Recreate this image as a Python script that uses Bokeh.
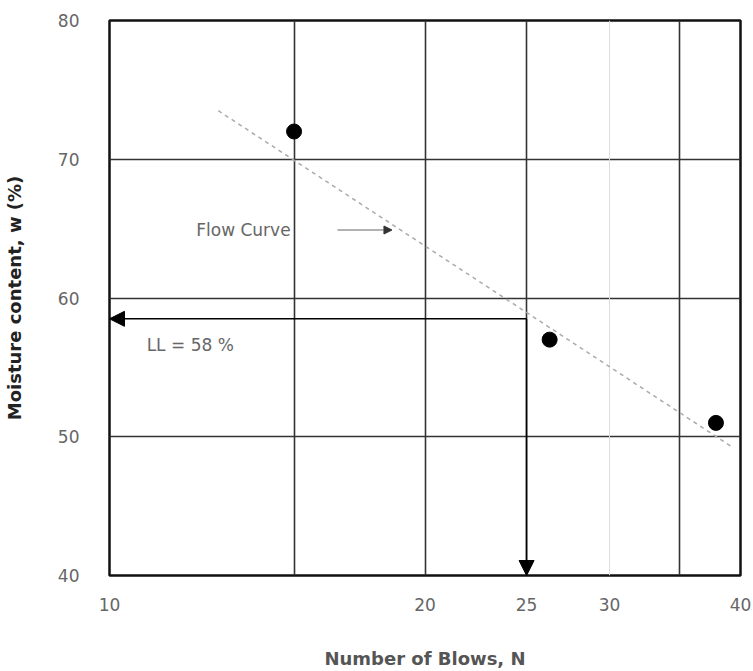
from bokeh.plotting import figure
from bokeh.models import (FixedTicker, Grid, Arrow, NormalHead, PrintfTickFormatter, Label)
from bokeh.embed import file_html
from bokeh.resources import INLINE

# ---- data ----
blows = [15, 26.3, 37.9]
moisture = [72, 57, 51]
flow_x = [12.7, 39.2]
flow_y = [73.5, 49.3]
ll_value = 58.5
n_ref = 25
x_ticks = [10, 20, 25, 30, 40]
y_ticks = [40, 50, 60, 70, 80]
x_grid_main = [15, 20, 25, 35]
x_grid_faint = [30]
y_grid = [50, 60, 70]

FONT = "DejaVu Sans"

p = figure(width=753, height=671, x_axis_type="log", x_range=(10, 40), y_range=(40, 80),
           output_backend="svg", toolbar_location=None,
           min_border_left=108, min_border_right=13, min_border_top=20, min_border_bottom=94)

p.outline_line_color = "#111111"
p.outline_line_width = 2.5
p.background_fill_color = "white"
p.border_fill_color = "white"

# axes
p.xaxis.ticker = FixedTicker(ticks=x_ticks)
p.xaxis.formatter = PrintfTickFormatter(format="%d")
p.yaxis.ticker = FixedTicker(ticks=y_ticks)
for ax in (p.xaxis, p.yaxis):
    ax.axis_line_color = None
    ax.major_tick_line_color = None
    ax.minor_tick_line_color = None
    ax.major_label_text_font = FONT
    ax.major_label_text_font_size = "17px"
    ax.major_label_text_color = "#666666"
    ax.axis_label_text_font = FONT
    ax.axis_label_text_font_style = "bold"
    ax.axis_label_text_font_size = "18px"
p.xaxis.axis_label_text_color = "#555555"
p.yaxis.axis_label_text_color = "#222222"
p.xaxis.major_label_standoff = 16
p.yaxis.major_label_standoff = 24
p.xaxis.axis_label = "Number of Blows, N"
p.yaxis.axis_label = "Moisture content, w (%)"
p.xaxis.axis_label_standoff = 34
p.yaxis.axis_label_standoff = 30

# grids
p.xgrid.ticker = FixedTicker(ticks=x_grid_main)
p.xgrid.grid_line_color = "#333333"
p.xgrid.grid_line_width = 1.6
p.ygrid.ticker = FixedTicker(ticks=y_grid)
p.ygrid.grid_line_color = "#333333"
p.ygrid.grid_line_width = 1.6
faint = Grid(dimension=0, ticker=FixedTicker(ticks=x_grid_faint),
             grid_line_color="#dddddd", grid_line_width=1)
p.add_layout(faint)

# flow curve
p.line(flow_x, flow_y, line_color="#aaaaaa", line_width=1.5, line_dash="4 4")

# data points
p.scatter(blows, moisture, size=15, color="black")

# LL arrows
p.add_layout(Arrow(end=NormalHead(size=15, fill_color="black", line_color="black"),
                   x_start=n_ref, y_start=ll_value, x_end=10, y_end=ll_value,
                   line_color="black", line_width=1.5))
p.add_layout(Arrow(end=NormalHead(size=15, fill_color="black", line_color="black"),
                   x_start=n_ref, y_start=ll_value, x_end=n_ref, y_end=40,
                   line_color="black", line_width=1.5))

# annotations
p.add_layout(Label(x=12.1, y=64.9, text="Flow Curve", text_font=FONT,
                   text_font_size="17px", text_color="#666666", text_baseline="middle"))
p.add_layout(Arrow(end=NormalHead(size=8, fill_color="#333333", line_color="#333333"),
                   x_start=16.5, y_start=64.9, x_end=18.6, y_end=64.9,
                   line_color="#666666", line_width=1.2))
p.add_layout(Label(x=10.85, y=56.6, text="LL = 58 %", text_font=FONT,
                   text_font_size="17px", text_color="#666666", text_baseline="middle"))

open("out.html", "w").write(file_html(p, INLINE))
